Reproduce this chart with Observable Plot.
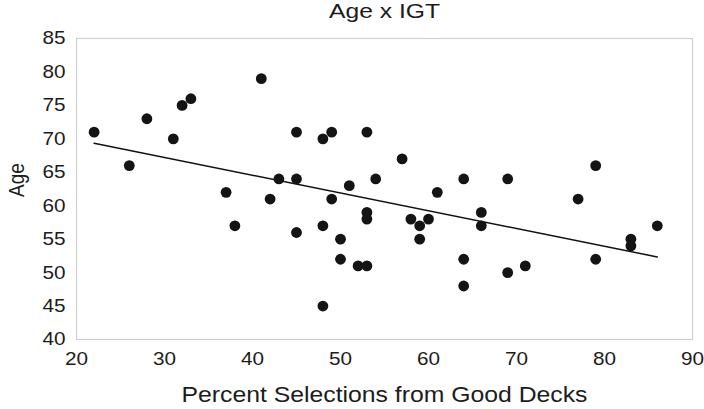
<!DOCTYPE html>
<html>
<head>
<meta charset="utf-8">
<script src="https://cdn.jsdelivr.net/npm/d3@7"></script>
<script src="https://cdn.jsdelivr.net/npm/@observablehq/plot@0.6"></script>
<style>
  html, body { margin: 0; padding: 0; background: #fff; }
  svg { display: block; }
</style>
</head>
<body>
<div id="chart"></div>
<script>
const title = "Age x IGT";
const xLabel = "Percent Selections from Good Decks";
const yLabel = "Age";
const xTicks = [20, 30, 40, 50, 60, 70, 80, 90];
const yTicks = [40, 45, 50, 55, 60, 65, 70, 75, 80, 85];
const pctGood = [22, 26, 28, 31, 32, 33, 37, 38, 41, 42, 43, 45, 45, 45, 48, 48, 48, 49, 49, 50, 50, 51, 52, 53, 53, 53, 53, 54, 57, 58, 59, 59, 60, 61, 64, 64, 64, 66, 66, 69, 69, 71, 77, 79, 79, 83, 83, 86];
const age =     [71, 66, 73, 70, 75, 76, 62, 57, 79, 61, 64, 71, 64, 56, 70, 57, 45, 71, 61, 55, 52, 63, 51, 71, 59, 58, 51, 64, 67, 58, 57, 55, 58, 62, 64, 52, 48, 59, 57, 64, 50, 51, 61, 66, 52, 55, 54, 57];

const data = pctGood.map((x, i) => ({x, y: age[i]}));
const font = "'Liberation Sans', Arial, Helvetica, sans-serif";
const ink = "#1c1c1c";

const chart = Plot.plot({
  width: 704,
  height: 409,
  marginLeft: 76,
  marginRight: 12,
  marginTop: 38,
  marginBottom: 70,
  style: {fontFamily: font, fontSize: "18.5px", color: ink, background: "#fff"},
  x: {domain: [20, 90], label: null},
  y: {domain: [40, 85], label: null},
  marks: [
    Plot.frame({stroke: "#cfcfcf", strokeWidth: 1.2}),
    Plot.axisX({ticks: xTicks, tickSize: 0, tickPadding: 12, fontSize: 18.5, fill: ink, label: null}),
    Plot.axisY({ticks: yTicks, tickSize: 0, tickPadding: 11, fontSize: 18.5, fill: ink, label: null}),
    Plot.linearRegressionY(data, {x: "x", y: "y", ci: 0, stroke: "#111", strokeWidth: 1.5}),
    Plot.dot(data, {x: "x", y: "y", r: 5.4, fill: "#141414", stroke: "none"}),
    Plot.text([title], {frameAnchor: "top", lineAnchor: "middle", textAnchor: "middle", dy: -27, text: d => d, fontSize: 21, fill: ink}),
    Plot.text([xLabel], {frameAnchor: "bottom", lineAnchor: "middle", textAnchor: "middle", dy: 55, text: d => d, fontSize: 22, fill: ink}),
    Plot.text([yLabel], {frameAnchor: "left", lineAnchor: "middle", textAnchor: "middle", rotate: -90, dx: -60, dy: -9, text: d => d, fontSize: 19, fill: ink})
  ]
});
document.getElementById("chart").appendChild(chart);

// The reference's lettering is set slightly wider than the font's natural width.
function widen(el, length) {
  el.setAttribute("textLength", length);
  el.setAttribute("lengthAdjust", "spacingAndGlyphs");
}
chart.querySelectorAll("text").forEach(el => {
  const s = el.textContent.trim();
  if (s === title) widen(el, 111);
  else if (s === xLabel) widen(el, 406);
  else if (s === yLabel) el.setAttribute("transform", (el.getAttribute("transform") || "") + " scale(1,1.15)");
  else if (/^\d+$/.test(s)) widen(el, el.getComputedTextLength() * 1.12);
});
</script>
</body>
</html>
